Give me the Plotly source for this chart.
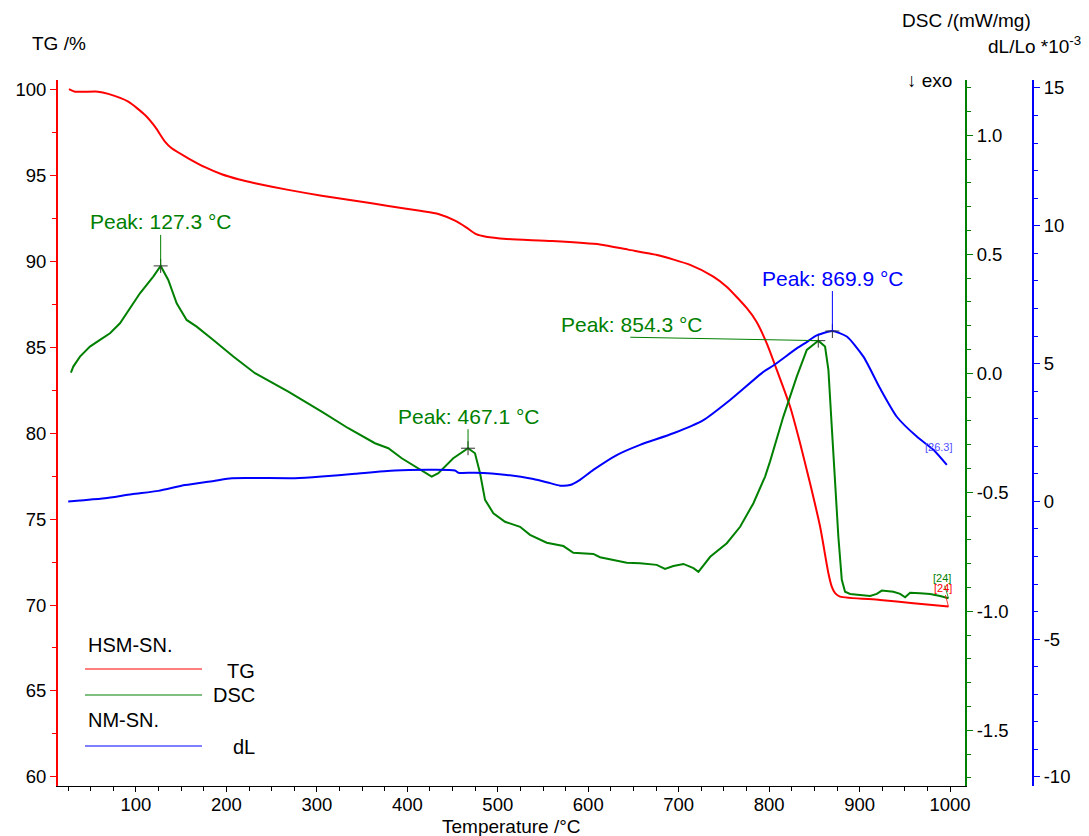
import plotly.graph_objects as go

# ---- TG (mass, %) vs temperature ----
tg_temp = [25.9, 32.6, 58, 69.4, 91.5, 110, 121, 132, 139.5, 157.8, 176.3, 194.8, 213.1,
           231.6, 268.4, 305.3, 342.1, 379, 415.9, 434.3, 452.7, 465, 476, 487, 510, 560,
           613, 644, 676, 712.6, 738.3, 753, 775.3, 786, 797.7, 808.4, 823.1, 834.2, 845.2,
           856.3, 865.5, 869.2, 872.9, 878.4, 922.6, 959.5, 998.2]
tg_val = [100.05, 99.90, 99.90, 99.77, 99.32, 98.54, 97.86, 96.99, 96.60, 96.02, 95.50, 95.09,
          94.80, 94.57, 94.18, 93.84, 93.55, 93.24, 92.95, 92.78, 92.39, 92.00, 91.60, 91.45,
          91.32, 91.20, 91.00, 90.70, 90.39, 89.81, 89.13, 88.54, 87.29, 86.50, 85.20, 83.70,
          81.56, 79.42, 77.09, 74.57, 71.85, 71.07, 70.69, 70.49, 70.30, 70.10, 69.91]

# ---- DSC (mW/mg) vs temperature ----
dsc_temp = [28.1, 30.7, 38.1, 49.1, 60.2, 71.3, 82.3, 89.7, 104.4, 119.1, 127.3, 135.7, 145,
            156, 167.1, 185.5, 207.6, 231.6, 268.4, 305.3, 334.7, 364.2, 379, 393.8, 412.1,
            426.9, 434.3, 450.8, 467.1, 474.8, 480.4, 485.9, 495.1, 508, 524.6, 535.6, 554.1,
            572.5, 583.5, 605.6, 613, 642.6, 657.3, 675.7, 684.9, 694.1, 705.2, 716.3, 721.8,
            734.8, 753.2, 767.9, 782.6, 795.5, 801, 815.7, 830.5, 841.6, 850.8, 854.3, 861.8,
            865.5, 869.2, 872.9, 876.5, 880.3, 883.9, 889.5, 911.6, 919, 924.5, 937.4, 944.8,
            950.3, 955.8, 966.9, 977.9, 989, 998.2]
dsc_val = [0.003, 0.028, 0.070, 0.112, 0.140, 0.168, 0.210, 0.252, 0.336, 0.406, 0.451, 0.392,
           0.294, 0.224, 0.196, 0.140, 0.070, 0.0, -0.077, -0.161, -0.231, -0.294, -0.315,
           -0.357, -0.399, -0.434, -0.420, -0.357, -0.315, -0.336, -0.420, -0.532, -0.588,
           -0.624, -0.645, -0.679, -0.712, -0.726, -0.754, -0.759, -0.773, -0.796, -0.798,
           -0.805, -0.822, -0.810, -0.801, -0.819, -0.834, -0.771, -0.714, -0.645, -0.546,
           -0.434, -0.370, -0.182, -0.014, 0.098, 0.126, 0.137, 0.112, 0.014, -0.224, -0.476,
           -0.687, -0.868, -0.918, -0.927, -0.936, -0.927, -0.913, -0.918, -0.927, -0.941,
           -0.922, -0.924, -0.927, -0.936, -0.945]

# ---- dilatometry dL/Lo (*10^-3) vs temperature ----
dl_temp = [25.1, 38.1, 65.7, 95.2, 124.7, 154.2, 187.4, 205.8, 275.8, 305.3, 342.1, 386.4,
           452.7, 456.4, 474.8, 509.9, 539.3, 557.8, 568.8, 579.9, 590.9, 605.6, 631.5, 657.3,
           694.1, 727.3, 756.8, 793.6, 804.7, 830.5, 841.6, 852.6, 869.9, 885.8, 904.2, 922.6,
           941.1, 963.2, 981.6, 996.4]
dl_val = [-0.01, 0.03, 0.11, 0.26, 0.38, 0.59, 0.75, 0.84, 0.84, 0.90, 1.00, 1.12, 1.12, 1.04,
          1.04, 0.96, 0.81, 0.66, 0.57, 0.59, 0.78, 1.14, 1.68, 2.05, 2.47, 2.95, 3.68, 4.70,
          4.93, 5.55, 5.78, 6.02, 6.18, 5.98, 5.25, 4.10, 3.07, 2.35, 1.87, 1.32]

# ---- peaks ----
dsc_peaks_t = [127.3, 467.1, 854.3]
dsc_peaks_v = [0.451, -0.315, 0.137]
dl_peak_t = 869.9
dl_peak_v = 6.18

# ---- axes ticks ----
x_ticks = [100, 200, 300, 400, 500, 600, 700, 800, 900, 1000]
tg_ticks = [60, 65, 70, 75, 80, 85, 90, 95, 100]
dsc_ticks = [-1.5, -1.0, -0.5, 0.0, 0.5, 1.0]
dsc_ticktext = ["-1.5", "-1.0", "-0.5", "0.0", "0.5", "1.0"]
dl_ticks = [-10, -5, 0, 5, 10, 15]
dl_ticktext = ["-10", "-5", "0", "5", "10", "15"]

RED, GREEN, BLUE = "#ff0000", "#008000", "#0000ff"
FONT = "Liberation Sans, Arial, sans-serif"

W, H = 1089, 836
ML, MR, MT, MB = 58, 56, 80, 50
PW, PH = W - ML - MR, H - MT - MB
X_END = (965 - ML) / PW


def px(xp):
    return (xp - ML) / PW


def py(yp):
    return (H - MB - yp) / PH


fig = go.Figure()
fig.add_trace(go.Scatter(x=tg_temp, y=tg_val, mode="lines", yaxis="y",
                         line=dict(color=RED, width=2, shape="spline", smoothing=0.6),
                         hoverinfo="skip"))
fig.add_trace(go.Scatter(x=dsc_temp, y=dsc_val, mode="lines", yaxis="y2",
                         line=dict(color=GREEN, width=2), hoverinfo="skip"))
fig.add_trace(go.Scatter(x=dl_temp, y=dl_val, mode="lines", yaxis="y3",
                         line=dict(color=BLUE, width=2, shape="spline", smoothing=0.6),
                         hoverinfo="skip"))
# peak crosses
fig.add_trace(go.Scatter(x=dsc_peaks_t, y=dsc_peaks_v, mode="markers", yaxis="y2",
                         marker=dict(symbol="cross-thin", size=10,
                                     line=dict(color="#333333", width=1)), hoverinfo="skip"))
fig.add_trace(go.Scatter(x=[dl_peak_t], y=[dl_peak_v], mode="markers", yaxis="y3",
                         marker=dict(symbol="cross-thin", size=10,
                                     line=dict(color="#333333", width=1)), hoverinfo="skip"))

tickfont = dict(family=FONT, size=18.5, color="black")

fig.update_layout(
    width=W, height=H, showlegend=False,
    margin=dict(l=ML, r=MR, t=MT, b=MB),
    plot_bgcolor="white", paper_bgcolor="white",
    xaxis=dict(domain=[0, X_END], range=[13.8, 1016.5], tickmode="array", tickvals=x_ticks,
               showline=True, linecolor="black", linewidth=1, ticks="outside", ticklen=5,
               ticklabelstandoff=-3,
               tickcolor="black", tickfont=tickfont, showgrid=False, zeroline=False,
               minor=dict(tickmode="linear", tick0=0, dtick=25, ticks="outside", ticklen=4,
                          tickcolor="black", showgrid=False)),
    yaxis=dict(range=[59.46, 100.58], tickmode="array", tickvals=tg_ticks,
               showline=True, linecolor=RED, linewidth=2, ticks="outside", ticklen=6,
               tickcolor=RED, tickfont=tickfont, showgrid=False, zeroline=False,
               minor=dict(tickmode="linear", tick0=0, dtick=2.5, ticks="outside", ticklen=4,
                          tickcolor=RED, showgrid=False)),
    yaxis2=dict(range=[-1.734, 1.232], overlaying="y", side="right", anchor="x",
                tickmode="array", tickvals=dsc_ticks, ticktext=dsc_ticktext,
                showline=True, linecolor=GREEN, linewidth=2, ticks="outside", ticklen=6,
                tickcolor=GREEN, tickfont=tickfont, showgrid=False, zeroline=False,
                minor=dict(tickmode="linear", tick0=0, dtick=0.1, ticks="outside", ticklen=4,
                           tickcolor=GREEN, showgrid=False)),
    yaxis3=dict(range=[-10.33, 15.29], overlaying="y", side="right", anchor="free", position=1,
                tickmode="array", tickvals=dl_ticks, ticktext=dl_ticktext,
                showline=True, linecolor=BLUE, linewidth=2, ticks="outside", ticklen=6,
                tickcolor=BLUE, tickfont=tickfont, showgrid=False, zeroline=False,
                minor=dict(tickmode="linear", tick0=0, dtick=1, ticks="outside", ticklen=4,
                           tickcolor=BLUE, showgrid=False)),
)

ann = []


def text(xp, yp, s, size=19, color="black", xanchor="left"):
    ann.append(dict(x=px(xp), y=py(yp), xref="paper", yref="paper", text=s, showarrow=False,
                    xanchor=xanchor, yanchor="middle",
                    font=dict(family=FONT, size=size, color=color)))


# axis titles
text(30, 44, "TG /%")
text(1033, 21, "DSC /(mW/mg)", xanchor="right")
text(1083, 45, "dL/Lo *10<sup>-3</sup>", xanchor="right")
text(905, 80, "↓ exo")
text(511, 826, "Temperature /°C", xanchor="center")

# legend block
text(86, 645, "HSM-SN.", size=20)
text(257, 671, "TG", size=20, xanchor="right")
text(257, 695, "DSC", size=20, xanchor="right")
text(86, 720, "NM-SN.", size=20)
text(257, 747, "dL", size=20, xanchor="right")
shapes = []
for yy, col in [(669, RED), (695, GREEN), (746, BLUE)]:
    shapes.append(dict(type="line", xref="paper", yref="paper", x0=px(85), x1=px(202),
                       y0=py(yy), y1=py(yy), line=dict(color=col, width=1)))

# peak labels with vertical leader lines
for t, v, dy in [(dsc_peaks_t[0], dsc_peaks_v[0], -44), (dsc_peaks_t[1], dsc_peaks_v[1], -32)]:
    ann.append(dict(x=t, y=v, xref="x", yref="y2", text=f"Peak: {t:.1f} °C",
                    showarrow=True, arrowhead=0, arrowwidth=1, arrowcolor=GREEN,
                    ax=0, ay=dy, standoff=0,
                    font=dict(family=FONT, size=21, color=GREEN)))
ann.append(dict(x=dl_peak_t, y=dl_peak_v, xref="x", yref="y3", text=f"Peak: {dl_peak_t:.1f} °C",
                showarrow=True, arrowhead=0, arrowwidth=1, arrowcolor=BLUE,
                ax=0, ay=-53, standoff=0, font=dict(family=FONT, size=21, color=BLUE)))
# 854.3 label sits to the left, joined by a long leader line
ann.append(dict(x=dsc_peaks_t[2], y=dsc_peaks_v[2], xref="x", yref="y2",
                text=f"Peak: {dsc_peaks_t[2]:.1f} °C", showarrow=False,
                xshift=-187, yshift=16, font=dict(family=FONT, size=21, color=GREEN)))
shapes.append(dict(type="line", xref="x", yref="y2", xsizemode="pixel", ysizemode="pixel",
                   xanchor=dsc_peaks_t[2], yanchor=dsc_peaks_v[2],
                   x0=0, y0=0, x1=-188, y1=3.4, line=dict(color=GREEN, width=1)))

# end-of-curve step labels
ann.append(dict(x=dsc_temp[-1], y=dsc_val[-1], xref="x", yref="y2", text="[24]",
                showarrow=True, arrowhead=0, arrowwidth=0.8, arrowcolor=GREEN, ax=-6, ay=-20,
                standoff=0, font=dict(family=FONT, size=11, color=GREEN)))
ann.append(dict(x=tg_temp[-1], y=tg_val[-1], xref="x", yref="y", text="[24]",
                showarrow=True, arrowhead=0, arrowwidth=0.8, arrowcolor=RED, ax=-5, ay=-19,
                standoff=0, font=dict(family=FONT, size=11, color=RED)))
ann.append(dict(x=dl_temp[-1], y=dl_val[-1], xref="x", yref="y3", text="[26.3]",
                showarrow=False, xshift=-8, yshift=18,
                font=dict(family=FONT, size=11, color="#5050ff")))

fig.update_layout(annotations=ann, shapes=shapes)
fig.write_html("out.html")
